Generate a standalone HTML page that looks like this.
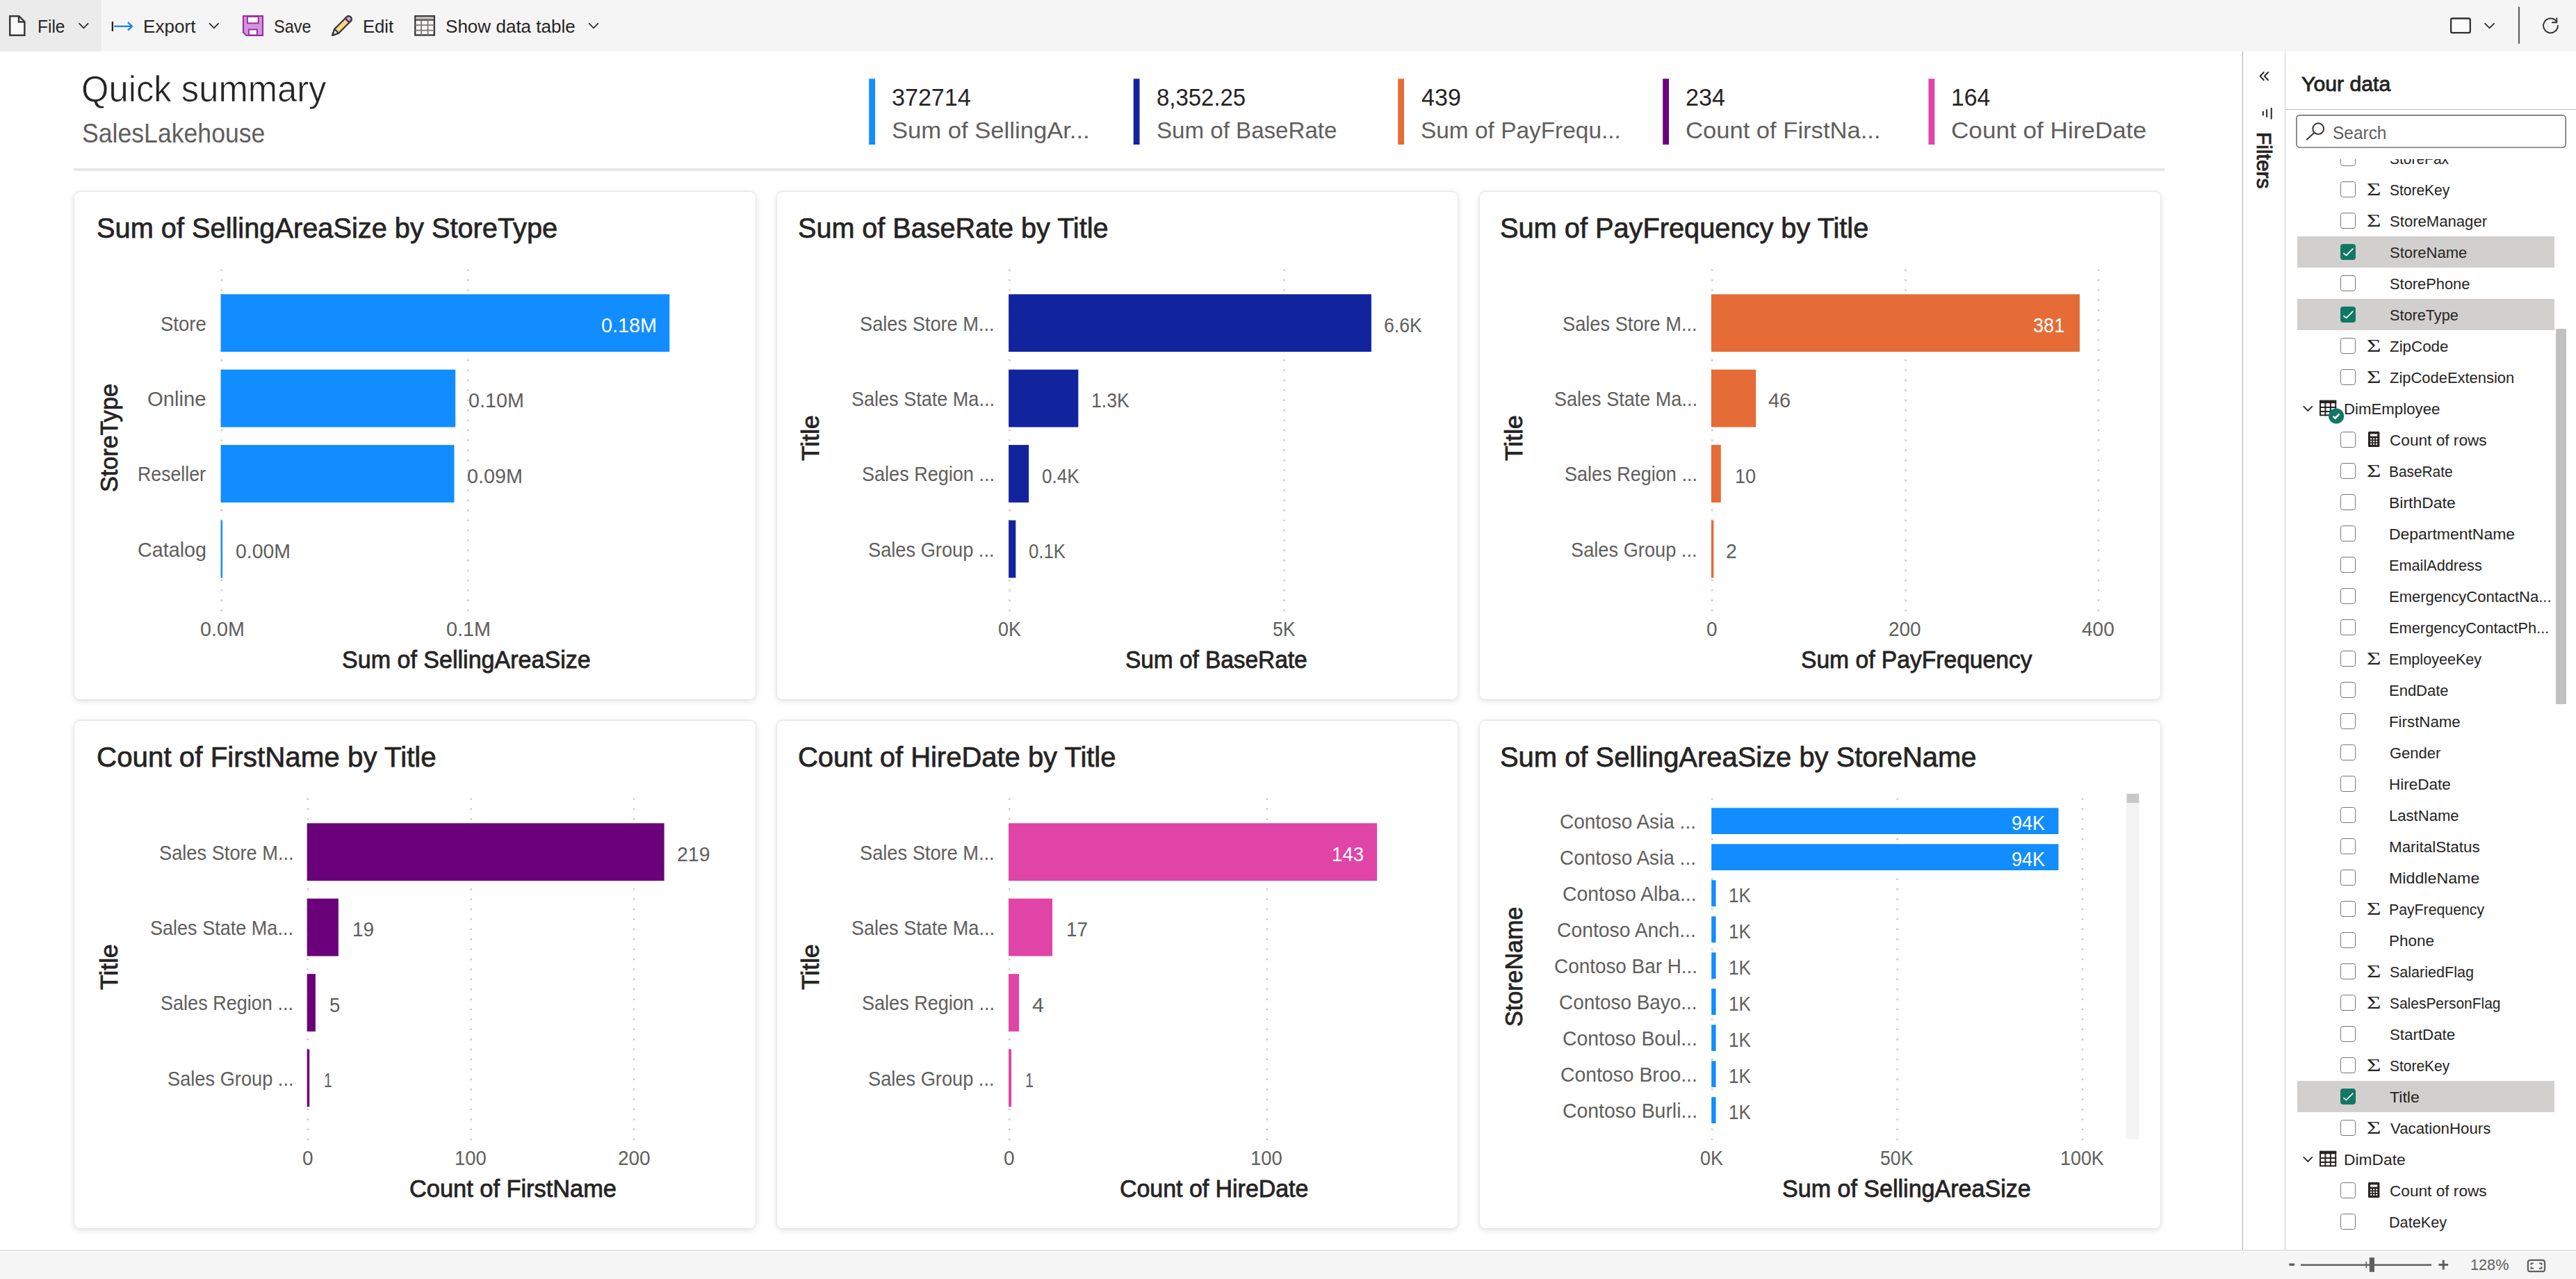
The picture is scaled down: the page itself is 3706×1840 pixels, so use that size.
<!DOCTYPE html>
<html lang="en">
<head>
<meta charset="utf-8">
<title>Quick summary - SalesLakehouse</title>
<style>
html,body{margin:0;padding:0;background:#fff;}
body{width:3706px;height:1840px;}
#app{width:3706px;height:1840px;position:relative;overflow:hidden;background:#fff;font-family:"Liberation Sans",sans-serif;color:#252423;}
.t{position:absolute;white-space:pre;line-height:1;transform-origin:0 0;}
.r,.i{position:absolute;}
svg{overflow:visible;display:block;}
header,main,aside,footer,nav,section,ul,li,h1,h2,h3,p{margin:0;padding:0;display:block;}
.box{position:absolute;left:0;top:0;width:0;height:0;}
.card{position:absolute;background:#fff;border-radius:8px;box-shadow:0 -0.5px 2px rgba(0,0,0,.09),0 2px 10px rgba(0,0,0,.15);}
.cb{position:absolute;width:20px;height:20.4px;border:1.3px solid #7a7876;border-radius:3.6px;background:#fff;}
.cb.on{border-color:#117865;background:#117865;}
#list{position:absolute;left:3288.5px;top:228.6px;width:417.5px;height:1569.4px;overflow:hidden;}
</style>
</head>
<body>
<div id="app">
<header class="box" id="appbar">
<div class="r" style="left:0px;top:0px;width:3706px;height:73.6px;background:#f5f5f5;"></div>
<div class="r" style="left:0px;top:0px;width:145.8px;height:73.6px;background:#ebebeb;"></div>
<svg class="i" style="left:0px;top:0px" width="3706" height="74" viewBox="0 0 3706 74"><path d="M14.25,23.25H27.4L35.35,31.2V50.65H14.25Z" fill="#fafafa" stroke="#3b3a39" stroke-width="2.5" stroke-linejoin="miter"/><path d="M27,23.6V31.6H35" fill="none" stroke="#3b3a39" stroke-width="2.5"/><polyline points="113.55,33.3 120.35,40.3 127.15,33.3" fill="none" stroke="#252423" stroke-width="1.7"/><rect x="160.7" y="31" width="2.3" height="13.9" fill="#252423"/><path d="M164.2,37.8H189.6M183.9,32.1L190,37.8L183.9,43.6" fill="none" stroke="#1a86d8" stroke-width="2.3"/><polyline points="301.05,33.3 307.85,40.3 314.65,33.3" fill="none" stroke="#252423" stroke-width="1.7"/><path d="M350,23H378V51H354.3L350,46.7Z" fill="#d493dc" stroke="#962a9f" stroke-width="2"/><rect x="355.9" y="23.9" width="15.9" height="9.4" fill="#fafafa" stroke="#962a9f" stroke-width="1.8"/><rect x="357.9" y="42.5" width="12" height="8" fill="#fafafa" stroke="#962a9f" stroke-width="1.8"/><g transform="translate(478.2,50.8) rotate(-45)" stroke="#3b3a39" stroke-width="2.3" stroke-linejoin="round"><path d="M0,0L8.6,-4.2H33A4.2,4.2 0 0 1 33,4.2H8.6Z" fill="#f7d98b"/><path d="M0,0L8.6,-4.2V4.2Z" fill="#fafafa"/><path d="M30.2,-4.2H33A4.2,4.2 0 0 1 33,4.2H30.2Z" fill="#d99be1"/></g><rect x="597.3" y="23.2" width="27.5" height="27.3" fill="#fafafa" stroke="#3b3a39" stroke-width="2.4"/><rect x="598.5" y="24.4" width="25.1" height="3.6" fill="#bdbbb8"/><path d="M597.3,28.8H624.8" stroke="#3b3a39" stroke-width="1.8"/><path d="M597.3,36.2H624.8M597.3,43.6H624.8M606,29V50.5M615.6,29V50.5" stroke="#7a7876" stroke-width="1.8"/><polyline points="847.15,33.3 853.95,40.3 860.75,33.3" fill="none" stroke="#252423" stroke-width="1.7"/><rect x="3526.1" y="26.5" width="27.7" height="20.6" rx="2.2" fill="#fafafa" stroke="#323130" stroke-width="2.3"/><polyline points="3574.6,33.4 3581.6,40.4 3588.6,33.4" fill="none" stroke="#252423" stroke-width="1.7"/><rect x="3622.9" y="9.8" width="2.2" height="53.1" fill="#616161"/><path d="M3679.86,36A10.4,10.4 0 1 1 3677.7,30.5" fill="none" stroke="#323130" stroke-width="1.9"/><path d="M3678.3,25.6V32.2H3671.1" fill="none" stroke="#323130" stroke-width="1.9"/></svg>
<span class="t" style="left:54.38px;top:25.5px;font-size:25.5px;transform:scaleX(0.9603);">File</span>
<span class="t" style="left:205.65px;top:25.5px;font-size:25.5px;transform:scaleX(1.0236);">Export</span>
<span class="t" style="left:393.68px;top:25.5px;font-size:25.5px;transform:scaleX(0.9242);">Save</span>
<span class="t" style="left:521.99px;top:25.5px;font-size:25.5px;transform:scaleX(1.0059);">Edit</span>
<span class="t" style="left:641.18px;top:25.5px;font-size:25.5px;transform:scaleX(1.0216);">Show data table</span>
</header>
<main class="box" id="report">
<span class="t" style="left:116.92px;top:102.2px;font-size:52.2px;transform:scaleX(0.9725);-webkit-text-stroke:0.7px #fff;">Quick summary</span>
<span class="t" style="left:118.19px;top:173.2px;font-size:38.1px;transform:scaleX(0.9355);color:#605e5c;">SalesLakehouse</span>
<div class="r" style="left:106px;top:242px;width:3007.5px;height:4.2px;background:#e6e6e6;"></div>
<svg class="i" style="left:1240px;top:110px" width="1560" height="100" viewBox="1240 110 1560 100"><rect x="1250.2" y="113.3" width="8.8" height="94.7" fill="#118dff"/><rect x="1630.7" y="113.3" width="8.8" height="94.7" fill="#12239e"/><rect x="2011.2" y="113.3" width="8.8" height="94.7" fill="#e66c37"/><rect x="2392.2" y="113.3" width="8.8" height="94.7" fill="#6b007b"/><rect x="2774.5" y="113.3" width="8.8" height="94.7" fill="#e044a7"/></svg>
<span class="t" style="left:1283.44px;top:123.1px;font-size:35.5px;transform:scaleX(0.9599);">372714</span>
<span class="t" style="left:1283.42px;top:170.7px;font-size:33.8px;transform:scaleX(1.024);color:#605e5c;">Sum of SellingAr...</span>
<span class="t" style="left:1663.97px;top:123.1px;font-size:35.5px;transform:scaleX(0.9275);">8,352.25</span>
<span class="t" style="left:1663.97px;top:170.7px;font-size:33.8px;transform:scaleX(0.9795);color:#605e5c;">Sum of BaseRate</span>
<span class="t" style="left:2044.97px;top:123.1px;font-size:35.5px;transform:scaleX(0.9592);">439</span>
<span class="t" style="left:2044.46px;top:170.7px;font-size:33.8px;transform:scaleX(0.9886);color:#605e5c;">Sum of PayFrequ...</span>
<span class="t" style="left:2424.9px;top:123.1px;font-size:35.5px;transform:scaleX(0.9597);">234</span>
<span class="t" style="left:2424.88px;top:170.7px;font-size:33.8px;transform:scaleX(1.023);color:#605e5c;">Count of FirstNa...</span>
<span class="t" style="left:2806.7px;top:123.1px;font-size:35.5px;transform:scaleX(0.9478);">164</span>
<span class="t" style="left:2807.15px;top:170.7px;font-size:33.8px;transform:scaleX(1.0393);color:#605e5c;">Count of HireDate</span>
<section class="card" style="left:107.3px;top:276px;width:979.6px;height:730px">
<span class="t" style="left:32.06px;top:31.8px;font-size:40.9px;transform:scaleX(0.9726);-webkit-text-stroke:0.75px;">Sum of SellingAreaSize by StoreType</span>
<svg class="i" style="left:0px;top:0px" width="979.6" height="730" viewBox="107.3 276 979.6 730"><line x1="319" x2="319" y1="387.4" y2="879.2" stroke="#c8c6c4" stroke-width="2.4" stroke-dasharray="2.4 12"/><line x1="673.4" x2="673.4" y1="387.4" y2="879.2" stroke="#c8c6c4" stroke-width="2.4" stroke-dasharray="2.4 12"/><rect x="317.9" y="423.3" width="645.6" height="82.8" fill="#118dff"/><rect x="317.9" y="531.7" width="337.6" height="82.8" fill="#118dff"/><rect x="317.9" y="640.1" width="335.9" height="82.8" fill="#118dff"/><rect x="317.9" y="748.5" width="2.5" height="82.8" fill="#118dff"/></svg>
<span class="t" style="left:62px;top:403.07px;font-size:34.2px;transform-origin:0 29px;transform:rotate(-90deg) scaleX(1.0011);-webkit-text-stroke:0.8px;">StoreType</span>
<span class="t" style="left:123.74px;top:174.5px;font-size:29.9px;transform:scaleX(0.9204);color:#605e5c;">Store</span>
<span class="t" style="left:758.2px;top:177px;font-size:29.9px;transform:scaleX(0.9607);color:#ffffff;">0.18M</span>
<span class="t" style="left:105.03px;top:282.9px;font-size:29.9px;transform:scaleX(0.9783);color:#605e5c;">Online</span>
<span class="t" style="left:566.8px;top:285.4px;font-size:29.9px;transform:scaleX(0.9607);color:#605e5c;">0.10M</span>
<span class="t" style="left:90.51px;top:391.3px;font-size:29.9px;transform:scaleX(0.8937);color:#605e5c;">Reseller</span>
<span class="t" style="left:565.2px;top:393.8px;font-size:29.9px;transform:scaleX(0.9607);color:#605e5c;">0.09M</span>
<span class="t" style="left:91.05px;top:499.7px;font-size:29.9px;transform:scaleX(0.9602);color:#605e5c;">Catalog</span>
<span class="t" style="left:232.01px;top:502.2px;font-size:29.9px;transform:scaleX(0.9507);color:#605e5c;">0.00M</span>
<span class="t" style="left:180.3px;top:613.5px;font-size:29.9px;transform:scaleX(0.9603);color:#605e5c;">0.0M</span>
<span class="t" style="left:534.6px;top:613.5px;font-size:29.9px;transform:scaleX(0.9634);color:#605e5c;">0.1M</span>
<span class="t" style="left:384.54px;top:655.7px;font-size:34.2px;transform:scaleX(0.996);-webkit-text-stroke:0.8px;">Sum of SellingAreaSize</span>
</section>
<section class="card" style="left:1117.9px;top:276px;width:979.6px;height:730px">
<span class="t" style="left:29.76px;top:31.8px;font-size:40.9px;transform:scaleX(0.9676);-webkit-text-stroke:0.75px;">Sum of BaseRate by Title</span>
<svg class="i" style="left:0px;top:0px" width="979.6" height="730" viewBox="1117.9 276 979.6 730"><line x1="1452.3" x2="1452.3" y1="387.4" y2="879.2" stroke="#c8c6c4" stroke-width="2.4" stroke-dasharray="2.4 12"/><line x1="1847.4" x2="1847.4" y1="387.4" y2="879.2" stroke="#c8c6c4" stroke-width="2.4" stroke-dasharray="2.4 12"/><rect x="1451" y="423.3" width="521.8" height="82.8" fill="#12239e"/><rect x="1451" y="531.7" width="100.2" height="82.8" fill="#12239e"/><rect x="1451" y="640.1" width="29" height="82.8" fill="#12239e"/><rect x="1451" y="748.5" width="10.2" height="82.8" fill="#12239e"/></svg>
<span class="t" style="left:60.6px;top:357.66px;font-size:34.2px;transform-origin:0 29px;transform:rotate(-90deg) scaleX(1.0388);-webkit-text-stroke:0.8px;">Title</span>
<span class="t" style="left:119.45px;top:174.5px;font-size:29.9px;transform:scaleX(0.9107);color:#605e5c;">Sales Store M...</span>
<span class="t" style="left:873.45px;top:177px;font-size:29.9px;transform:scaleX(0.8898);color:#605e5c;">6.6K</span>
<span class="t" style="left:107.15px;top:282.9px;font-size:29.9px;transform:scaleX(0.9047);color:#605e5c;">Sales State Ma...</span>
<span class="t" style="left:451.64px;top:285.4px;font-size:29.9px;transform:scaleX(0.8884);color:#605e5c;">1.3K</span>
<span class="t" style="left:122.15px;top:391.3px;font-size:29.9px;transform:scaleX(0.9048);color:#605e5c;">Sales Region ...</span>
<span class="t" style="left:381.19px;top:393.8px;font-size:29.9px;transform:scaleX(0.8713);color:#605e5c;">0.4K</span>
<span class="t" style="left:131.55px;top:499.7px;font-size:29.9px;transform:scaleX(0.9106);color:#605e5c;">Sales Group ...</span>
<span class="t" style="left:362.4px;top:502.2px;font-size:29.9px;transform:scaleX(0.8597);color:#605e5c;">0.1K</span>
<span class="t" style="left:317.66px;top:613.5px;font-size:29.9px;transform:scaleX(0.9004);color:#605e5c;">0K</span>
<span class="t" style="left:713.02px;top:613.5px;font-size:29.9px;transform:scaleX(0.8863);color:#605e5c;">5K</span>
<span class="t" style="left:501.41px;top:655.7px;font-size:34.2px;transform:scaleX(0.9763);-webkit-text-stroke:0.8px;">Sum of BaseRate</span>
</section>
<section class="card" style="left:2128.5px;top:276px;width:979.6px;height:730px">
<span class="t" style="left:29.46px;top:31.8px;font-size:40.9px;transform:scaleX(0.9722);-webkit-text-stroke:0.75px;">Sum of PayFrequency by Title</span>
<svg class="i" style="left:0px;top:0px" width="979.6" height="730" viewBox="2128.5 276 979.6 730"><line x1="2462.6" x2="2462.6" y1="387.4" y2="879.2" stroke="#c8c6c4" stroke-width="2.4" stroke-dasharray="2.4 12"/><line x1="2741" x2="2741" y1="387.4" y2="879.2" stroke="#c8c6c4" stroke-width="2.4" stroke-dasharray="2.4 12"/><line x1="3018.7" x2="3018.7" y1="387.4" y2="879.2" stroke="#c8c6c4" stroke-width="2.4" stroke-dasharray="2.4 12"/><rect x="2461.4" y="423.3" width="530.1" height="82.8" fill="#e66c37"/><rect x="2461.4" y="531.7" width="64.3" height="82.8" fill="#e66c37"/><rect x="2461.4" y="640.1" width="13.9" height="82.8" fill="#e66c37"/><rect x="2461.4" y="748.5" width="3.5" height="82.8" fill="#e66c37"/></svg>
<span class="t" style="left:61px;top:357.66px;font-size:34.2px;transform-origin:0 29px;transform:rotate(-90deg) scaleX(1.0388);-webkit-text-stroke:0.8px;">Title</span>
<span class="t" style="left:119.65px;top:174.5px;font-size:29.9px;transform:scaleX(0.9107);color:#605e5c;">Sales Store M...</span>
<span class="t" style="left:796.75px;top:177px;font-size:29.9px;transform:scaleX(0.9091);color:#ffffff;">381</span>
<span class="t" style="left:107.35px;top:282.9px;font-size:29.9px;transform:scaleX(0.9047);color:#605e5c;">Sales State Ma...</span>
<span class="t" style="left:415.85px;top:285.4px;font-size:29.9px;transform:scaleX(0.969);color:#605e5c;">46</span>
<span class="t" style="left:122.35px;top:391.3px;font-size:29.9px;transform:scaleX(0.9048);color:#605e5c;">Sales Region ...</span>
<span class="t" style="left:367.1px;top:393.8px;font-size:29.9px;transform:scaleX(0.9072);color:#605e5c;">10</span>
<span class="t" style="left:131.75px;top:499.7px;font-size:29.9px;transform:scaleX(0.9106);color:#605e5c;">Sales Group ...</span>
<span class="t" style="left:354.77px;top:502.2px;font-size:29.9px;transform:scaleX(0.9489);color:#605e5c;">2</span>
<span class="t" style="left:326.22px;top:613.5px;font-size:29.9px;transform:scaleX(0.9365);color:#605e5c;">0</span>
<span class="t" style="left:588.89px;top:613.5px;font-size:29.9px;transform:scaleX(0.9342);color:#605e5c;">200</span>
<span class="t" style="left:866.91px;top:613.5px;font-size:29.9px;transform:scaleX(0.9389);color:#605e5c;">400</span>
<span class="t" style="left:462.05px;top:655.7px;font-size:34.2px;transform:scaleX(0.9831);-webkit-text-stroke:0.8px;">Sum of PayFrequency</span>
</section>
<section class="card" style="left:107.3px;top:1037px;width:979.6px;height:730px">
<span class="t" style="left:32.11px;top:31.8px;font-size:40.9px;transform:scaleX(0.9866);-webkit-text-stroke:0.75px;">Count of FirstName by Title</span>
<svg class="i" style="left:0px;top:0px" width="979.6" height="730" viewBox="107.3 1037 979.6 730"><line x1="443.2" x2="443.2" y1="1148.4" y2="1640.2" stroke="#c8c6c4" stroke-width="2.4" stroke-dasharray="2.4 12"/><line x1="677.8" x2="677.8" y1="1148.4" y2="1640.2" stroke="#c8c6c4" stroke-width="2.4" stroke-dasharray="2.4 12"/><line x1="912.5" x2="912.5" y1="1148.4" y2="1640.2" stroke="#c8c6c4" stroke-width="2.4" stroke-dasharray="2.4 12"/><rect x="442" y="1184.3" width="513.9" height="82.8" fill="#6b007b"/><rect x="442" y="1292.7" width="45.2" height="82.8" fill="#6b007b"/><rect x="442" y="1401.1" width="12.2" height="82.8" fill="#6b007b"/><rect x="442" y="1509.5" width="3.5" height="82.8" fill="#6b007b"/></svg>
<span class="t" style="left:62px;top:357.66px;font-size:34.2px;transform-origin:0 29px;transform:rotate(-90deg) scaleX(1.0388);-webkit-text-stroke:0.8px;">Title</span>
<span class="t" style="left:121.45px;top:174.5px;font-size:29.9px;transform:scaleX(0.9107);color:#605e5c;">Sales Store M...</span>
<span class="t" style="left:866.36px;top:177px;font-size:29.9px;transform:scaleX(0.954);color:#605e5c;">219</span>
<span class="t" style="left:109.15px;top:282.9px;font-size:29.9px;transform:scaleX(0.9047);color:#605e5c;">Sales State Ma...</span>
<span class="t" style="left:399.55px;top:285.4px;font-size:29.9px;transform:scaleX(0.9378);color:#605e5c;">19</span>
<span class="t" style="left:124.15px;top:391.3px;font-size:29.9px;transform:scaleX(0.9048);color:#605e5c;">Sales Region ...</span>
<span class="t" style="left:366.24px;top:393.8px;font-size:29.9px;transform:scaleX(0.9183);color:#605e5c;">5</span>
<span class="t" style="left:133.55px;top:499.7px;font-size:29.9px;transform:scaleX(0.9106);color:#605e5c;">Sales Group ...</span>
<span class="t" style="left:358.58px;top:502.2px;font-size:29.9px;transform:scaleX(0.7086);color:#605e5c;">1</span>
<span class="t" style="left:328.02px;top:613.5px;font-size:29.9px;transform:scaleX(0.9365);color:#605e5c;">0</span>
<span class="t" style="left:547.08px;top:613.5px;font-size:29.9px;transform:scaleX(0.9181);color:#605e5c;">100</span>
<span class="t" style="left:781.59px;top:613.5px;font-size:29.9px;transform:scaleX(0.9342);color:#605e5c;">200</span>
<span class="t" style="left:481.24px;top:655.7px;font-size:34.2px;transform:scaleX(1.0054);-webkit-text-stroke:0.8px;">Count of FirstName</span>
</section>
<section class="card" style="left:1117.9px;top:1037px;width:979.6px;height:730px">
<span class="t" style="left:29.83px;top:31.8px;font-size:40.9px;transform:scaleX(0.9771);-webkit-text-stroke:0.75px;">Count of HireDate by Title</span>
<svg class="i" style="left:0px;top:0px" width="979.6" height="730" viewBox="1117.9 1037 979.6 730"><line x1="1452.1" x2="1452.1" y1="1148.4" y2="1640.2" stroke="#c8c6c4" stroke-width="2.4" stroke-dasharray="2.4 12"/><line x1="1822.6" x2="1822.6" y1="1148.4" y2="1640.2" stroke="#c8c6c4" stroke-width="2.4" stroke-dasharray="2.4 12"/><rect x="1450.9" y="1184.3" width="530.1" height="82.8" fill="#e044a7"/><rect x="1450.9" y="1292.7" width="63" height="82.8" fill="#e044a7"/><rect x="1450.9" y="1401.1" width="15" height="82.8" fill="#e044a7"/><rect x="1450.9" y="1509.5" width="4" height="82.8" fill="#e044a7"/></svg>
<span class="t" style="left:60.6px;top:357.66px;font-size:34.2px;transform-origin:0 29px;transform:rotate(-90deg) scaleX(1.0388);-webkit-text-stroke:0.8px;">Title</span>
<span class="t" style="left:119.45px;top:174.5px;font-size:29.9px;transform:scaleX(0.9107);color:#605e5c;">Sales Store M...</span>
<span class="t" style="left:797.77px;top:177px;font-size:29.9px;transform:scaleX(0.9251);color:#ffffff;">143</span>
<span class="t" style="left:107.15px;top:282.9px;font-size:29.9px;transform:scaleX(0.9047);color:#605e5c;">Sales State Ma...</span>
<span class="t" style="left:416.56px;top:285.4px;font-size:29.9px;transform:scaleX(0.9312);color:#605e5c;">17</span>
<span class="t" style="left:122.15px;top:391.3px;font-size:29.9px;transform:scaleX(0.9048);color:#605e5c;">Sales Region ...</span>
<span class="t" style="left:366.63px;top:393.8px;font-size:29.9px;transform:scaleX(1.0119);color:#605e5c;">4</span>
<span class="t" style="left:131.55px;top:499.7px;font-size:29.9px;transform:scaleX(0.9106);color:#605e5c;">Sales Group ...</span>
<span class="t" style="left:357.58px;top:502.2px;font-size:29.9px;transform:scaleX(0.7086);color:#605e5c;">1</span>
<span class="t" style="left:326.32px;top:613.5px;font-size:29.9px;transform:scaleX(0.9365);color:#605e5c;">0</span>
<span class="t" style="left:681.28px;top:613.5px;font-size:29.9px;transform:scaleX(0.9181);color:#605e5c;">100</span>
<span class="t" style="left:492.86px;top:655.7px;font-size:34.2px;transform:scaleX(0.9917);-webkit-text-stroke:0.8px;">Count of HireDate</span>
</section>
<section class="card" style="left:2128.5px;top:1037px;width:979.6px;height:730px">
<span class="t" style="left:29.45px;top:31.8px;font-size:40.9px;transform:scaleX(0.9761);-webkit-text-stroke:0.75px;">Sum of SellingAreaSize by StoreName</span>
<svg class="i" style="left:0px;top:0px" width="979.6" height="730" viewBox="2128.5 1037 979.6 730"><line x1="2462.6" x2="2462.6" y1="1148.4" y2="1640.2" stroke="#c8c6c4" stroke-width="2.4" stroke-dasharray="2.4 12"/><line x1="2729" x2="2729" y1="1148.4" y2="1640.2" stroke="#c8c6c4" stroke-width="2.4" stroke-dasharray="2.4 12"/><line x1="2995.6" x2="2995.6" y1="1148.4" y2="1640.2" stroke="#c8c6c4" stroke-width="2.4" stroke-dasharray="2.4 12"/><rect x="2461.7" y="1162.3" width="499.3" height="37.7" fill="#118dff"/><rect x="2461.7" y="1214.3" width="499.3" height="37.7" fill="#118dff"/><rect x="2461.7" y="1266.3" width="6.4" height="37.7" fill="#118dff"/><rect x="2461.7" y="1318.3" width="6.4" height="37.7" fill="#118dff"/><rect x="2461.7" y="1370.3" width="6.4" height="37.7" fill="#118dff"/><rect x="2461.7" y="1422.3" width="6.4" height="37.7" fill="#118dff"/><rect x="2461.7" y="1474.3" width="6.4" height="37.7" fill="#118dff"/><rect x="2461.7" y="1526.3" width="6.4" height="37.7" fill="#118dff"/><rect x="2461.7" y="1578.3" width="6.4" height="37.7" fill="#118dff"/><rect x="3058.4" y="1155" width="18.5" height="483.8" fill="#f3f3f3"/><rect x="3059" y="1141.8" width="17.9" height="13.2" fill="#c8c8c8"/></svg>
<span class="t" style="left:61px;top:411.27px;font-size:34.2px;transform-origin:0 29px;transform:rotate(-90deg) scaleX(0.997);-webkit-text-stroke:0.8px;">StoreName</span>
<span class="t" style="left:115.69px;top:129.95px;font-size:29.9px;transform:scaleX(0.9359);color:#605e5c;">Contoso Asia ...</span>
<span class="t" style="left:765.63px;top:132.45px;font-size:29.9px;transform:scaleX(0.9052);color:#ffffff;">94K</span>
<span class="t" style="left:115.69px;top:181.95px;font-size:29.9px;transform:scaleX(0.9359);color:#605e5c;">Contoso Asia ...</span>
<span class="t" style="left:765.63px;top:184.45px;font-size:29.9px;transform:scaleX(0.9052);color:#ffffff;">94K</span>
<span class="t" style="left:119.07px;top:233.95px;font-size:29.9px;transform:scaleX(0.9499);color:#605e5c;">Contoso Alba...</span>
<span class="t" style="left:358.97px;top:236.45px;font-size:29.9px;transform:scaleX(0.8725);color:#605e5c;">1K</span>
<span class="t" style="left:111.87px;top:285.95px;font-size:29.9px;transform:scaleX(0.9466);color:#605e5c;">Contoso Anch...</span>
<span class="t" style="left:358.97px;top:288.45px;font-size:29.9px;transform:scaleX(0.8725);color:#605e5c;">1K</span>
<span class="t" style="left:107.09px;top:337.95px;font-size:29.9px;transform:scaleX(0.9326);color:#605e5c;">Contoso Bar H...</span>
<span class="t" style="left:358.97px;top:340.45px;font-size:29.9px;transform:scaleX(0.8725);color:#605e5c;">1K</span>
<span class="t" style="left:114.59px;top:389.95px;font-size:29.9px;transform:scaleX(0.9337);color:#605e5c;">Contoso Bayo...</span>
<span class="t" style="left:358.97px;top:392.45px;font-size:29.9px;transform:scaleX(0.8725);color:#605e5c;">1K</span>
<span class="t" style="left:119.37px;top:441.95px;font-size:29.9px;transform:scaleX(0.9484);color:#605e5c;">Contoso Boul...</span>
<span class="t" style="left:358.97px;top:444.45px;font-size:29.9px;transform:scaleX(0.8725);color:#605e5c;">1K</span>
<span class="t" style="left:116.37px;top:493.95px;font-size:29.9px;transform:scaleX(0.9477);color:#605e5c;">Contoso Broo...</span>
<span class="t" style="left:358.97px;top:496.45px;font-size:29.9px;transform:scaleX(0.8725);color:#605e5c;">1K</span>
<span class="t" style="left:119.07px;top:545.95px;font-size:29.9px;transform:scaleX(0.95);color:#605e5c;">Contoso Burli...</span>
<span class="t" style="left:358.97px;top:548.45px;font-size:29.9px;transform:scaleX(0.8725);color:#605e5c;">1K</span>
<span class="t" style="left:317.36px;top:613.5px;font-size:29.9px;transform:scaleX(0.9004);color:#605e5c;">0K</span>
<span class="t" style="left:576.52px;top:613.5px;font-size:29.9px;transform:scaleX(0.8913);color:#605e5c;">50K</span>
<span class="t" style="left:835.02px;top:613.5px;font-size:29.9px;transform:scaleX(0.8989);color:#605e5c;">100K</span>
<span class="t" style="left:435.74px;top:655.7px;font-size:34.2px;transform:scaleX(0.996);-webkit-text-stroke:0.8px;">Sum of SellingAreaSize</span>
</section>
</main>
<aside class="box" id="filters">
<div class="r" style="left:3225.9px;top:73.6px;width:1.5px;height:1724.4px;background:#b3b0ad;"></div>
<svg class="i" style="left:3227px;top:74px" width="60" height="220" viewBox="3227 74 60 220"><path d="M3257.3,103.4L3251.6,109.6L3257.3,115.8M3263.6,103.4L3257.9,109.6L3263.6,115.8" fill="none" stroke="#252423" stroke-width="2"/><path d="M3255.8,160V166.2M3261.1,157.2V168.8M3267.7,155V171.5" fill="none" stroke="#252423" stroke-width="2"/></svg>
<span class="t" style="left:3247px;top:165.81px;font-size:29.2px;transform-origin:0 24px;transform:rotate(90deg) scaleX(1.0263);-webkit-text-stroke:0.9px;">Filters</span>
</aside>
<aside class="box" id="data">
<div class="r" style="left:3287.2px;top:73.6px;width:1.3px;height:1724.4px;background:#d2d0ce;"></div>
<span class="t" style="left:3310.53px;top:104.6px;font-size:30.4px;transform:scaleX(0.9949);-webkit-text-stroke:0.9px;">Your data</span>
<div class="r" style="left:3288px;top:156.9px;width:418px;height:1.4px;background:#c4c2c0;"></div>
<svg class="i" style="left:3302px;top:164px" width="392" height="50" viewBox="3302 164 392 50"><rect x="3304" y="165.8" width="387.2" height="46.3" rx="4.5" fill="#fff" stroke="#605e5c" stroke-width="1.4"/></svg>
<svg class="i" style="left:3315px;top:172px" width="32" height="32" viewBox="3315 172 32 32"><circle cx="3335.2" cy="185.2" r="7.9" fill="none" stroke="#323130" stroke-width="1.9"/><path d="M3329.6,190.8L3318.2,201.3" stroke="#323130" stroke-width="1.9"/></svg>
<span class="t" style="left:3356.32px;top:178.5px;font-size:25px;transform:scaleX(0.9777);color:#605e5c;">Search</span>
<div id="list">
<div class="cb" style="left:78.6px;top:-12.2px"></div>
<span class="t" style="left:149.33px;top:-10.5px;font-size:21.8px;transform:scaleX(0.9617);">StoreFax</span>
<div class="cb" style="left:78.6px;top:32.8px"></div>
<span class="t" style="left:116.72px;top:31.9px;font-size:25.6px;transform:scaleX(1.378);font-family:'Liberation Serif',serif;">Σ</span>
<span class="t" style="left:149.33px;top:34.5px;font-size:21.8px;transform:scaleX(0.962);">StoreKey</span>
<div class="cb" style="left:78.6px;top:77.8px"></div>
<span class="t" style="left:116.72px;top:76.9px;font-size:25.6px;transform:scaleX(1.378);font-family:'Liberation Serif',serif;">Σ</span>
<span class="t" style="left:149.29px;top:79.5px;font-size:21.8px;transform:scaleX(1.014);">StoreManager</span>
<div class="r" style="left:16.5px;top:111.4px;width:369.7px;height:45px;background:#d2d0ce;"></div>
<div class="cb on" style="left:78.6px;top:122.8px"></div>
<svg class="i" style="left:78.5px;top:122.4px" width="23" height="23" viewBox="3367 351 23 23"><polyline points="3371.4,364.3 3375.6,367.4 3385.3,357.6" fill="none" stroke="#fff" stroke-width="1.7"/></svg>
<span class="t" style="left:149.29px;top:124.5px;font-size:21.8px;transform:scaleX(1.0099);">StoreName</span>
<div class="cb" style="left:78.6px;top:167.8px"></div>
<span class="t" style="left:149.3px;top:169.5px;font-size:21.8px;transform:scaleX(1.0016);">StorePhone</span>
<div class="r" style="left:16.5px;top:201.4px;width:369.7px;height:45px;background:#d2d0ce;"></div>
<div class="cb on" style="left:78.6px;top:212.8px"></div>
<svg class="i" style="left:78.5px;top:212.4px" width="23" height="23" viewBox="3367 441 23 23"><polyline points="3371.4,454.3 3375.6,457.4 3385.3,447.6" fill="none" stroke="#fff" stroke-width="1.7"/></svg>
<span class="t" style="left:149.31px;top:214.5px;font-size:21.8px;transform:scaleX(0.9944);">StoreType</span>
<div class="cb" style="left:78.6px;top:257.8px"></div>
<span class="t" style="left:116.72px;top:256.9px;font-size:25.6px;transform:scaleX(1.378);font-family:'Liberation Serif',serif;">Σ</span>
<span class="t" style="left:149.58px;top:259.5px;font-size:21.8px;transform:scaleX(1.025);">ZipCode</span>
<div class="cb" style="left:78.6px;top:302.8px"></div>
<span class="t" style="left:116.72px;top:301.9px;font-size:25.6px;transform:scaleX(1.378);font-family:'Liberation Serif',serif;">Σ</span>
<span class="t" style="left:149.6px;top:304.5px;font-size:21.8px;transform:scaleX(1.0062);">ZipCodeExtension</span>
<svg class="i" style="left:23.5px;top:344.4px" width="64" height="40" viewBox="3312 573 64 40"><polyline points="3313.8,584.4 3320.3,591 3326.8,584.4" fill="none" stroke="#252423" stroke-width="1.8"/><rect x="3338" y="576.8" width="22.2" height="20.5" fill="#fff" stroke="#252423" stroke-width="2"/><rect x="3337" y="575.8" width="24.2" height="4.4" fill="#252423"/><path d="M3337,586H3361.2M3337,592H3361.2M3345.4,579.8V598.2M3352.9,579.8V598.2" stroke="#252423" stroke-width="2" fill="none"/><circle cx="3361.1" cy="598.5" r="11.1" fill="#117865"/><polyline points="3356.7,598.9 3359.6,601.7 3365.5,595.5" fill="none" stroke="#fff" stroke-width="2.6"/></svg>
<span class="t" style="left:83.88px;top:349.3px;font-size:22px;transform:scaleX(1.0105);">DimEmployee</span>
<div class="cb" style="left:78.6px;top:392.8px"></div>
<svg class="i" style="left:117.5px;top:391.4px" width="20" height="24" viewBox="3406 620 20 24"><rect x="3407" y="620.8" width="16.4" height="22.2" rx="1.6" fill="#252423"/><rect x="3410.1" y="624.4" width="10.2" height="3.1" fill="#fff"/><rect x="3410.2" y="630.3" width="2.1" height="2.1" fill="#fff"/><rect x="3414.15" y="630.3" width="2.1" height="2.1" fill="#fff"/><rect x="3418.1" y="630.3" width="2.1" height="2.1" fill="#fff"/><rect x="3410.2" y="634.05" width="2.1" height="2.1" fill="#fff"/><rect x="3414.15" y="634.05" width="2.1" height="2.1" fill="#fff"/><rect x="3418.1" y="634.05" width="2.1" height="2.1" fill="#fff"/><rect x="3410.2" y="637.8" width="2.1" height="2.1" fill="#fff"/><rect x="3414.15" y="637.8" width="2.1" height="2.1" fill="#fff"/><rect x="3418.1" y="637.8" width="2.1" height="2.1" fill="#fff"/></svg>
<span class="t" style="left:149.06px;top:394.5px;font-size:21.8px;transform:scaleX(1.0385);">Count of rows</span>
<div class="cb" style="left:78.6px;top:437.8px"></div>
<span class="t" style="left:116.72px;top:436.9px;font-size:25.6px;transform:scaleX(1.378);font-family:'Liberation Serif',serif;">Σ</span>
<span class="t" style="left:148.57px;top:439.5px;font-size:21.8px;transform:scaleX(0.9569);">BaseRate</span>
<div class="cb" style="left:78.6px;top:482.8px"></div>
<span class="t" style="left:148.41px;top:484.5px;font-size:21.8px;transform:scaleX(1.0527);">BirthDate</span>
<div class="cb" style="left:78.6px;top:527.8px"></div>
<span class="t" style="left:148.41px;top:529.5px;font-size:21.8px;transform:scaleX(1.0524);">DepartmentName</span>
<div class="cb" style="left:78.6px;top:572.8px"></div>
<span class="t" style="left:148.51px;top:574.5px;font-size:21.8px;transform:scaleX(0.9948);">EmailAddress</span>
<div class="cb" style="left:78.6px;top:617.8px"></div>
<span class="t" style="left:148.48px;top:619.5px;font-size:21.8px;transform:scaleX(1.0094);">EmergencyContactNa...</span>
<div class="cb" style="left:78.6px;top:662.8px"></div>
<span class="t" style="left:148.5px;top:664.5px;font-size:21.8px;transform:scaleX(1.001);">EmergencyContactPh...</span>
<div class="cb" style="left:78.6px;top:707.8px"></div>
<span class="t" style="left:116.72px;top:706.9px;font-size:25.6px;transform:scaleX(1.378);font-family:'Liberation Serif',serif;">Σ</span>
<span class="t" style="left:148.52px;top:709.5px;font-size:21.8px;transform:scaleX(0.9894);">EmployeeKey</span>
<div class="cb" style="left:78.6px;top:752.8px"></div>
<span class="t" style="left:148.49px;top:754.5px;font-size:21.8px;transform:scaleX(1.0084);">EndDate</span>
<div class="cb" style="left:78.6px;top:797.8px"></div>
<span class="t" style="left:148.46px;top:799.5px;font-size:21.8px;transform:scaleX(1.0224);">FirstName</span>
<div class="cb" style="left:78.6px;top:842.8px"></div>
<span class="t" style="left:149.19px;top:844.5px;font-size:21.8px;transform:scaleX(1.0077);">Gender</span>
<div class="cb" style="left:78.6px;top:887.8px"></div>
<span class="t" style="left:148.45px;top:889.5px;font-size:21.8px;transform:scaleX(1.0312);">HireDate</span>
<div class="cb" style="left:78.6px;top:932.8px"></div>
<span class="t" style="left:148.48px;top:934.5px;font-size:21.8px;transform:scaleX(1.0121);">LastName</span>
<div class="cb" style="left:78.6px;top:977.8px"></div>
<span class="t" style="left:148.45px;top:979.5px;font-size:21.8px;transform:scaleX(1.0271);">MaritalStatus</span>
<div class="cb" style="left:78.6px;top:1022.8px"></div>
<span class="t" style="left:148.39px;top:1024.5px;font-size:21.8px;transform:scaleX(1.0656);">MiddleName</span>
<div class="cb" style="left:78.6px;top:1067.8px"></div>
<span class="t" style="left:116.72px;top:1066.9px;font-size:25.6px;transform:scaleX(1.378);font-family:'Liberation Serif',serif;">Σ</span>
<span class="t" style="left:148.54px;top:1069.5px;font-size:21.8px;transform:scaleX(0.9751);">PayFrequency</span>
<div class="cb" style="left:78.6px;top:1112.8px"></div>
<span class="t" style="left:148.45px;top:1114.5px;font-size:21.8px;transform:scaleX(1.0296);">Phone</span>
<div class="cb" style="left:78.6px;top:1157.8px"></div>
<span class="t" style="left:116.72px;top:1156.9px;font-size:25.6px;transform:scaleX(1.378);font-family:'Liberation Serif',serif;">Σ</span>
<span class="t" style="left:149.31px;top:1159.5px;font-size:21.8px;transform:scaleX(0.9878);">SalariedFlag</span>
<div class="cb" style="left:78.6px;top:1202.8px"></div>
<span class="t" style="left:116.72px;top:1201.9px;font-size:25.6px;transform:scaleX(1.378);font-family:'Liberation Serif',serif;">Σ</span>
<span class="t" style="left:149.34px;top:1204.5px;font-size:21.8px;transform:scaleX(0.961);">SalesPersonFlag</span>
<div class="cb" style="left:78.6px;top:1247.8px"></div>
<span class="t" style="left:149.28px;top:1249.5px;font-size:21.8px;transform:scaleX(1.0226);">StartDate</span>
<div class="cb" style="left:78.6px;top:1292.8px"></div>
<span class="t" style="left:116.72px;top:1291.9px;font-size:25.6px;transform:scaleX(1.378);font-family:'Liberation Serif',serif;">Σ</span>
<span class="t" style="left:149.33px;top:1294.5px;font-size:21.8px;transform:scaleX(0.962);">StoreKey</span>
<div class="r" style="left:16.5px;top:1326.4px;width:369.7px;height:45px;background:#d2d0ce;"></div>
<div class="cb on" style="left:78.6px;top:1337.8px"></div>
<svg class="i" style="left:78.5px;top:1337.4px" width="23" height="23" viewBox="3367 1566 23 23"><polyline points="3371.4,1579.3 3375.6,1582.4 3385.3,1572.6" fill="none" stroke="#fff" stroke-width="1.7"/></svg>
<span class="t" style="left:149.77px;top:1339.5px;font-size:21.8px;transform:scaleX(1.0627);">Title</span>
<div class="cb" style="left:78.6px;top:1382.8px"></div>
<span class="t" style="left:116.72px;top:1381.9px;font-size:25.6px;transform:scaleX(1.378);font-family:'Liberation Serif',serif;">Σ</span>
<span class="t" style="left:150.2px;top:1384.5px;font-size:21.8px;transform:scaleX(1.0208);">VacationHours</span>
<svg class="i" style="left:23.5px;top:1424.4px" width="64" height="40" viewBox="3312 1653 64 40"><polyline points="3313.8,1664.4 3320.3,1671 3326.8,1664.4" fill="none" stroke="#252423" stroke-width="1.8"/><rect x="3338" y="1656.8" width="22.2" height="20.5" fill="#fff" stroke="#252423" stroke-width="2"/><rect x="3337" y="1655.8" width="24.2" height="4.4" fill="#252423"/><path d="M3337,1666H3361.2M3337,1672H3361.2M3345.4,1659.8V1678.2M3352.9,1659.8V1678.2" stroke="#252423" stroke-width="2" fill="none"/></svg>
<span class="t" style="left:83.84px;top:1429.3px;font-size:22px;transform:scaleX(1.0358);">DimDate</span>
<div class="cb" style="left:78.6px;top:1472.8px"></div>
<svg class="i" style="left:117.5px;top:1471.4px" width="20" height="24" viewBox="3406 1700 20 24"><rect x="3407" y="1700.8" width="16.4" height="22.2" rx="1.6" fill="#252423"/><rect x="3410.1" y="1704.4" width="10.2" height="3.1" fill="#fff"/><rect x="3410.2" y="1710.3" width="2.1" height="2.1" fill="#fff"/><rect x="3414.15" y="1710.3" width="2.1" height="2.1" fill="#fff"/><rect x="3418.1" y="1710.3" width="2.1" height="2.1" fill="#fff"/><rect x="3410.2" y="1714.05" width="2.1" height="2.1" fill="#fff"/><rect x="3414.15" y="1714.05" width="2.1" height="2.1" fill="#fff"/><rect x="3418.1" y="1714.05" width="2.1" height="2.1" fill="#fff"/><rect x="3410.2" y="1717.8" width="2.1" height="2.1" fill="#fff"/><rect x="3414.15" y="1717.8" width="2.1" height="2.1" fill="#fff"/><rect x="3418.1" y="1717.8" width="2.1" height="2.1" fill="#fff"/></svg>
<span class="t" style="left:149.06px;top:1474.5px;font-size:21.8px;transform:scaleX(1.0385);">Count of rows</span>
<div class="cb" style="left:78.6px;top:1517.8px"></div>
<span class="t" style="left:148.51px;top:1519.5px;font-size:21.8px;transform:scaleX(0.9925);">DateKey</span>
</div>
<div class="r" style="left:3676.9px;top:473.4px;width:15.1px;height:540.1px;background:#c1c1c1;"></div>
</aside>
<footer class="box" id="status">
<div class="r" style="left:0px;top:1797.6px;width:3706px;height:42.4px;background:#f5f5f5;border-top:1px solid #d6d6d6;box-sizing:border-box;"></div>
<svg class="i" style="left:3290px;top:1800px" width="400" height="40" viewBox="3290 1800 400 40"><rect x="3293.3" y="1817.6" width="7.9" height="3.3" fill="#605e5c"/><rect x="3310" y="1818.6" width="188" height="2.4" fill="#605e5c"/><rect x="3403.5" y="1815" width="1.6" height="9.2" fill="#605e5c"/><rect x="3408.8" y="1809.1" width="7.2" height="20.7" fill="#605e5c"/><path d="M3508.4,1819.6H3522.1M3515.2,1812.7V1826.4" stroke="#605e5c" stroke-width="3"/><rect x="3636.9" y="1812.9" width="24.1" height="16.3" rx="3" fill="none" stroke="#605e5c" stroke-width="2.3"/><path d="M3641.5,1820V1817.4H3645M3656.4,1820V1817.4H3652.9M3641.5,1822.2V1824.8H3645M3656.4,1822.2V1824.8H3652.9" fill="none" stroke="#605e5c" stroke-width="1.9"/></svg>
<span class="t" style="left:3553.86px;top:1808.8px;font-size:22.5px;transform:scaleX(0.963);color:#605e5c;">128%</span>
</footer>
</div>
</body>
</html>
